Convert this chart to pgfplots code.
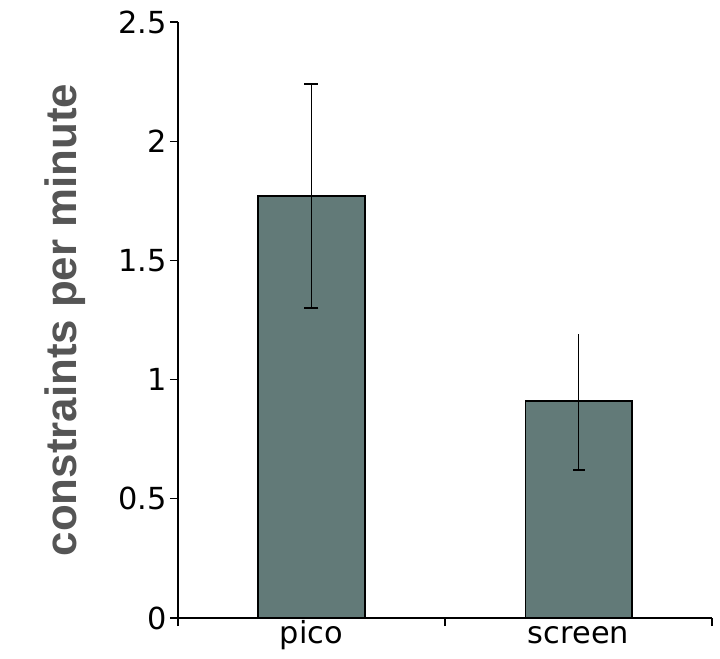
\documentclass[border=0pt]{standalone}
\usepackage{pgfplots}
\pgfplotsset{compat=1.18}
\usepackage{fontspec}
\setmainfont{DejaVu Sans}
\newfontfamily\labelfont{Liberation Sans}
\definecolor{barfill}{RGB}{98,122,120}
\definecolor{labgray}{RGB}{85,85,85}
\begin{document}
\begin{tikzpicture}
\begin{axis}[
  scale only axis, width=534bp, height=596bp,
  xmin=0, xmax=2, ymin=0, ymax=2.5,
  axis x line*=bottom, axis y line*=left,
  axis line style={line width=1.2bp},
  xtick={0,1,2}, xticklabels={},
  extra x ticks={0.5,1.5}, extra x tick labels={pico,screen},
  extra x tick style={major tick length=0pt},
  xticklabel style={text height=22bp, text depth=7bp},
  ytick={0,0.5,1,1.5,2,2.5}, yticklabels={0,0.5,1,1.5,2,2.5},
  tick align=outside, major tick length=8bp,
  tick style={black, line width=1.2bp},
  ticklabel style={font=\fontsize{30.5}{35}\selectfont},
  /pgf/number format/assume math mode=true,
  ylabel={constraints per minute},
  ylabel style={font=\labelfont\bfseries\fontsize{44}{50}\selectfont, text=labgray, yshift=26bp},
  bar width=0.4,
  clip=false,
]
\addplot[ybar, fill=barfill, draw=black, line width=1.2bp] coordinates {(0.5,1.77) (1.5,0.91)};
\addplot[draw=none, mark=none,
  error bars/.cd, y dir=both, y explicit,
  error bar style={draw=black, line width=1.6bp},
  error mark options={rotate=90, mark size=7bp, draw=black, line width=1.6bp}]
  coordinates {(0.5,1.77) += (0,0.47) -= (0,0.47)};
\addplot[draw=none, mark=none,
  error bars/.cd, y dir=minus, y explicit,
  error bar style={draw=black, line width=1.6bp},
  error mark options={rotate=90, mark size=6bp, draw=black, line width=1.6bp}]
  coordinates {(1.5,0.91) -= (0,0.29)};
\addplot[draw=none, mark=none,
  error bars/.cd, y dir=plus, y explicit,
  error bar style={draw=black, line width=1.6bp},
  error mark=none]
  coordinates {(1.5,0.91) += (0,0.28)};
\end{axis}
\pgfresetboundingbox
\path ([shift={(-178bp,-41bp)}]current axis.south west) rectangle ([shift={(8bp,22bp)}]current axis.north east);
\end{tikzpicture}
\end{document}
